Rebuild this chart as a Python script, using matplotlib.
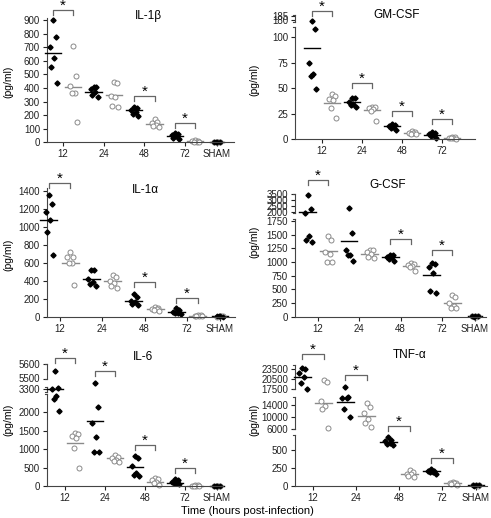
import numpy as np
import matplotlib
matplotlib.use("Agg")
import matplotlib.pyplot as plt

plt.rcParams['font.family'] = ['Liberation Sans', 'DejaVu Sans']

# ---------------------
# DATA
# groups: 12, 24, 48, 72 h ; filled = infected (black), open = other group (grey)
# ---------------------
times = ["12", "24", "48", "72"]

il1b_filled = [[900, 775, 700, 620, 555, 440], [410, 405, 390, 370, 345, 330],
               [260, 250, 240, 225, 210, 195], [65, 60, 55, 45, 35, 25]]
il1b_open = [[710, 490, 415, 365, 360, 150], [445, 435, 340, 330, 270, 260],
             [170, 150, 140, 130, 120, 115], [15, 10, 8, 5, 5, 5]]
il1b_mean_filled = [660, 370, 235, 48]
il1b_mean_open = [410, 345, 135, 8]
il1b_sham = [3, 2, 4, 1]
il1b_sig = [0, 2, 3]
il1b_sig_level = [973, 341, 145]

gmcsf_filled = [[179, 108, 75, 64, 62, 49], [40, 40, 36, 34, 33, 31],
                [15, 14, 13, 12, 11, 9], [7, 6, 5, 4, 3, 1]]
gmcsf_open = [[44, 42, 39, 38, 30, 21], [31, 31, 30, 29, 28, 18],
              [8, 7, 6, 6, 5, 5], [2, 1.5, 1, 0.5, 0.5, 0.3]]
gmcsf_mean_filled = [89, 36, 12.3, 4.3]
gmcsf_mean_open = [35, 28.5, 6.2, 1]
gmcsf_sham = []
gmcsf_sig = [0, 1, 2, 3]
gmcsf_sig_level = [190, 54.8, 27.5, 19.7]

il1a_filled = [[1350, 1260, 1170, 1080, 940, 690], [515, 515, 420, 390, 360, 345],
               [250, 220, 180, 160, 140, 135], [95, 70, 55, 45, 40, 30]]
il1a_open = [[720, 670, 660, 600, 600, 350], [460, 440, 400, 380, 340, 320],
             [110, 100, 90, 85, 75, 65], [20, 15, 12, 10, 8, 5]]
il1a_mean_filled = [1077, 420, 180, 56]
il1a_mean_open = [595, 397, 87, 12]
il1a_sham = [4, 3, 2, 5]
il1a_sig = [0, 2, 3]
il1a_sig_level = [1485, 382, 204]

gcsf_filled = [[3400, 2250, 1990, 1480, 1400, 1370], [2390, 1525, 1220, 1130, 1120, 1015],
               [1130, 1120, 1100, 1090, 1060, 1020], [980, 960, 910, 800, 470, 440]]
gcsf_open = [[1480, 1400, 1190, 1140, 1000, 1000], [1220, 1210, 1180, 1150, 1100, 1070],
             [980, 960, 940, 920, 900, 840], [400, 360, 250, 190, 160, 150]]
gcsf_mean_filled = [2000, 1390, 1090, 760]
gcsf_mean_open = [1200, 1140, 930, 250]
gcsf_sham = [6, 4, 8, 3]
gcsf_sig = [0, 2, 3]
gcsf_sig_level = [4600, 1415, 1225]

il6_filled = [[5550, 3360, 3300, 2455, 2357, 2040], [4240, 2140, 1700, 1340, 930, 930],
              [820, 770, 530, 340, 300, 270], [180, 150, 120, 90, 70, 50]]
il6_open = [[1450, 1420, 1350, 1300, 1020, 500], [830, 790, 750, 720, 680, 640],
            [220, 200, 150, 100, 70, 40], [20, 15, 10, 10, 5, 5]]
il6_mean_filled = [3300, 1775, 510, 80]
il6_mean_open = [1160, 750, 100, 10]
il6_sham = [5, 8, 3, 6]
il6_sig = [0, 1, 2, 3]
il6_sig_level = [5635, 5552, 1115, 480]

tnf_filled = [[24000, 23500, 22500, 21100, 19300, 17600], [18100, 16900, 16300, 16300, 12800, 10000],
              [680, 640, 620, 600, 590, 570], [230, 215, 205, 200, 195, 170]]
tnf_open = [[20300, 19800, 15500, 13800, 12800, 6300], [14870, 13530, 11300, 9300, 8200, 6870],
            [220, 200, 170, 165, 140, 130], [50, 45, 40, 35, 30, 20]]
tnf_mean_filled = [21100, 15200, 615, 205]
tnf_mean_open = [14870, 10430, 170, 37]
tnf_sham = [10, 8, 12, 6]
tnf_sig = [0, 1, 2, 3]
tnf_sig_level = [28100, 21800, 7100, 385]

# ---------------------
# LAYOUT (figure pixels) and broken-axis scales
# ---------------------
W, H = 491, 518

panels = [
    dict(title="IL-1\u03b2", filled=il1b_filled, opn=il1b_open, mf=il1b_mean_filled, mo=il1b_mean_open,
         sham=il1b_sham, sig=il1b_sig, sig_level=il1b_sig_level,
         box=(47, 234, 142.3, 18), x12=63, x72=185, xsham=217,
         brk_vals=[0, 900], brk_px=[0, 122.3], segs=[(0, 915)],
         yticks=list(range(0, 1000, 100)), title_xy=(148, 16), ylab_xy=(8, 82)),
    dict(title="GM-CSF", filled=gmcsf_filled, opn=gmcsf_open, mf=gmcsf_mean_filled, mo=gmcsf_mean_open,
         sham=gmcsf_sham, sig=gmcsf_sig, sig_level=gmcsf_sig_level,
         box=(295, 475, 139, 15), x12=322, x72=442, xsham=None,
         brk_vals=[0, 110, 178, 186], brk_px=[0, 111.9, 117.3, 124.2], segs=[(0, 110), (178, 186)],
         yticks=[0, 25, 50, 75, 100, 180, 185], title_xy=(397, 15), ylab_xy=(254, 80)),
    dict(title="IL-1\u03b1", filled=il1a_filled, opn=il1a_open, mf=il1a_mean_filled, mo=il1a_mean_open,
         sham=il1a_sham, sig=il1a_sig, sig_level=il1a_sig_level,
         box=(47, 235, 316.7, 188), x12=59.5, x72=187, xsham=220,
         brk_vals=[0, 1400], brk_px=[0, 125.7], segs=[(0, 1430)],
         yticks=list(range(0, 1600, 200)), title_xy=(145, 190), ylab_xy=(8, 255)),
    dict(title="G-CSF", filled=gcsf_filled, opn=gcsf_open, mf=gcsf_mean_filled, mo=gcsf_mean_open,
         sham=gcsf_sham, sig=gcsf_sig, sig_level=gcsf_sig_level,
         box=(295, 486, 316.7, 192), x12=318, x72=442, xsham=475,
         brk_vals=[0, 1780, 1950, 3500], brk_px=[0, 97.4, 103.6, 123], segs=[(0, 1780), (1950, 3500)],
         yticks=[0, 250, 500, 750, 1000, 1250, 1500, 1750, 2000, 2500, 3000, 3500],
         title_xy=(388, 185), ylab_xy=(254, 242)),
    dict(title="IL-6", filled=il6_filled, opn=il6_open, mf=il6_mean_filled, mo=il6_mean_open,
         sham=il6_sham, sig=il6_sig, sig_level=il6_sig_level,
         box=(47, 223, 486, 362), x12=65, x72=185, xsham=217,
         brk_vals=[0, 2500, 3200, 3400, 5500, 5600], brk_px=[0, 92, 94.5, 99.5, 107.5, 122.5],
         segs=[(0, 2500), (3200, 3400), (5500, 5600)],
         yticks=[0, 500, 1000, 1500, 2000, 3300, 5500, 5600], title_xy=(143, 357), ylab_xy=(8, 420)),
    dict(title="TNF-\u03b1", filled=tnf_filled, opn=tnf_open, mf=tnf_mean_filled, mo=tnf_mean_open,
         sham=tnf_sham, sig=tnf_sig, sig_level=tnf_sig_level,
         box=(295, 487, 486, 364), x12=313, x72=442, xsham=476,
         brk_vals=[0, 708, 6000, 17000, 17500, 23500], brk_px=[0, 51, 56.7, 89.7, 96.7, 116.7],
         segs=[(0, 708), (6000, 16700), (17500, 24800)],
         yticks=[0, 250, 500, 6000, 10000, 14000, 17500, 20500, 23500],
         title_xy=(410, 355), ylab_xy=(254, 420)),
]

JIT = [0.0, 0.07, -0.07, 0.035, -0.035, 0.1]
GREY = "#8a8a8a"


def make_scale(vals, px):
    vals = np.asarray(vals, float)
    px = np.asarray(px, float)

    def piece(v, a, b):
        v = np.asarray(v, float)
        out = np.interp(v, a, b)
        s0 = (b[1] - b[0]) / (a[1] - a[0])
        s1 = (b[-1] - b[-2]) / (a[-1] - a[-2])
        out = np.where(v < a[0], b[0] + (v - a[0]) * s0, out)
        out = np.where(v > a[-1], b[-1] + (v - a[-1]) * s1, out)
        return out

    return (lambda v: piece(v, vals, px)), (lambda p: piece(p, px, vals))


fig = plt.figure(figsize=(W / 100, H / 100), dpi=100)

for p in panels:
    left, right, base, top = p["box"]
    ax = fig.add_axes([left / W, (H - base) / H, (right - left) / W, (base - top) / H])
    fwd, inv = make_scale(p["brk_vals"], p["brk_px"])
    ax.set_yscale("function", functions=(fwd, inv))
    ax.set_ylim(float(inv(0.0)), float(inv(base - top)))

    unit = (p["x72"] - p["x12"]) / 3.0
    ax.set_xlim((left - p["x12"]) / unit, (right - p["x12"]) / unit)

    xt = [0, 1, 2, 3]
    xl = list(times)
    if p["xsham"] is not None:
        sham_x = (p["xsham"] - p["x12"]) / unit
        xt.append(sham_x)
        xl.append("SHAM")
    ax.set_xticks(xt)
    ax.set_xticklabels(xl)
    ax.set_yticks(p["yticks"])
    ax.set_yticklabels([str(t) for t in p["yticks"]])
    ax.tick_params(axis="both", labelsize=7, length=3, width=0.8, pad=2, colors="#222222")

    for s in ("top", "right", "left"):
        ax.spines[s].set_visible(False)
    ax.spines["bottom"].set_linewidth(0.8)
    ax.spines["bottom"].set_color("#444444")

    # broken left spine
    ytr = ax.get_yaxis_transform()
    for lo, hi in p["segs"]:
        ax.plot([0, 0], [lo, hi], color="#444444", lw=0.8, transform=ytr, clip_on=False)
        if len(p["segs"]) > 1:
            for yy in (lo, hi):
                if yy > 0:
                    ax.plot([-0.012, 0.0], [yy, yy], color="#444444", lw=0.8, transform=ytr, clip_on=False)

    # groups
    for i in range(4):
        xf = i - 0.25
        xo = i + 0.25
        vf = p["filled"][i]
        vo = p["opn"][i]
        ax.plot([xo - 0.2, xo + 0.2], [p["mo"][i]] * 2, color=GREY, lw=1.0, clip_on=False)
        ax.plot([xf - 0.2, xf + 0.2], [p["mf"][i]] * 2, color="black", lw=1.0, clip_on=False)
        ax.plot([xo + JIT[k] for k in range(len(vo))], vo, "o", ms=3.6, mfc="white", mec=GREY,
                mew=0.7, ls="none", clip_on=False)
        ax.plot([xf + JIT[k] for k in range(len(vf))], vf, "D", ms=2.6, color="black",
                ls="none", clip_on=False)

    if p["sham"]:
        sham_x = (p["xsham"] - p["x12"]) / unit
        ax.plot([sham_x - 0.18, sham_x + 0.18], [np.mean(p["sham"])] * 2, color="black", lw=1.0, clip_on=False)
        ax.plot([sham_x + JIT[k] for k in range(len(p["sham"]))], p["sham"], "o", ms=3.6, mfc="white",
                mec=GREY, mew=0.7, ls="none", clip_on=False)
        ax.plot([sham_x - JIT[k] for k in range(len(p["sham"]))], p["sham"], "D", ms=2.4, color="black",
                ls="none", clip_on=False)

    # significance brackets
    for g, lvl in zip(p["sig"], p["sig_level"]):
        x1, x2 = g - 0.25, g + 0.25
        d = ax.transData.transform([(x1, lvl), (x2, lvl)])
        pts = np.array([[d[0][0], d[0][1] - 5], d[0], d[1], [d[1][0], d[1][1] - 5]])
        dd = ax.transData.inverted().transform(pts)
        ax.plot(dd[:, 0], dd[:, 1], color="#666666", lw=0.9, clip_on=False)
        ax.annotate("*", xy=((x1 + x2) / 2, lvl), xytext=(0, -2), textcoords="offset points",
                    ha="center", va="bottom", fontsize=11, annotation_clip=False)

    tx, ty = p["title_xy"]
    fig.text(tx / W, 1 - ty / H, p["title"], ha="center", va="center", fontsize=8.5)
    lx, ly = p["ylab_xy"]
    fig.text(lx / W, 1 - ly / H, "(pg/ml)", ha="center", va="center", rotation=90, fontsize=7.5)

fig.text(247 / W, 1 - 511 / H, "Time (hours post-infection)", ha="center", va="center", fontsize=8)

fig.savefig("out.png", dpi=100)
